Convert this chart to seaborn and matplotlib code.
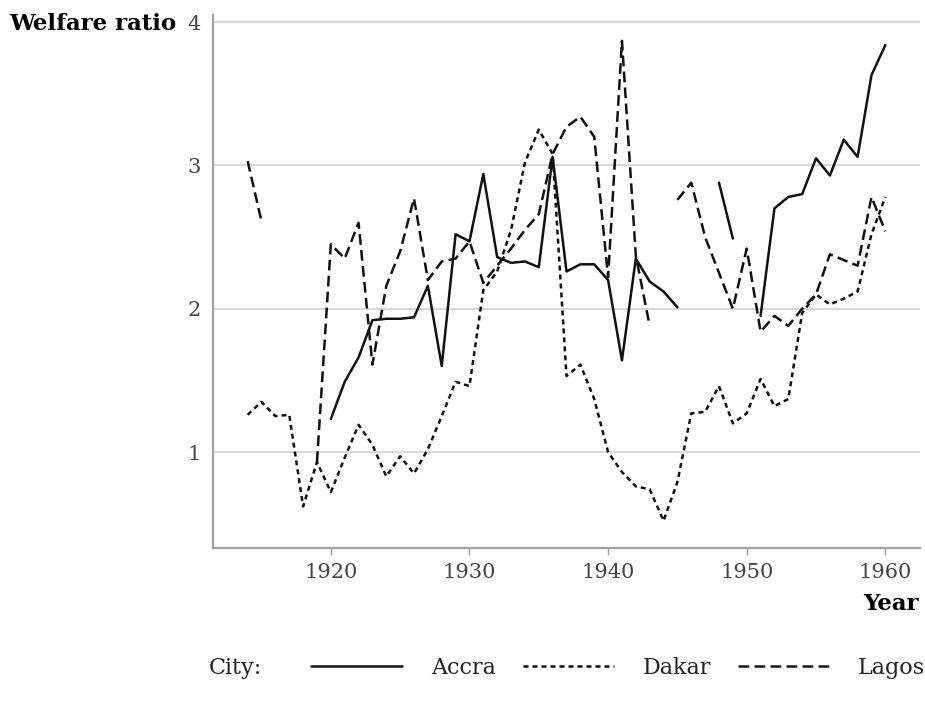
import numpy as np
import pandas as pd
import matplotlib.pyplot as plt
from matplotlib.lines import Line2D
import seaborn as sns

# -----------------------------
# Data
# -----------------------------
years = list(range(1914, 1961))

accra = [np.nan, np.nan, np.nan, np.nan, np.nan, np.nan,
         1.23, 1.49, 1.66, 1.92, 1.93, 1.93, 1.94, 2.16, 1.60, 2.52,
         2.47, 2.94, 2.36, 2.32, 2.33, 2.29, 3.06, 2.26, 2.31, 2.31,
         2.20, 1.64, 2.35, 2.19, 2.12, 2.01, np.nan, np.nan, 2.88, 2.49,
         np.nan, 1.95, 2.70, 2.78, 2.80, 3.05, 2.93, 3.18, 3.06, 3.63,
         3.84]

dakar = [1.26, 1.35, 1.25, 1.26, 0.62, 0.93,
         0.72, 0.96, 1.19, 1.05, 0.83, 0.97, 0.85, 1.02, 1.25, 1.49,
         1.46, 2.13, 2.26, 2.55, 3.02, 3.25, 3.08, 1.53, 1.61, 1.37,
         1.00, 0.86, 0.76, 0.74, 0.52, 0.79, 1.27, 1.28, 1.46, 1.20,
         1.27, 1.51, 1.32, 1.37, 1.97, 2.10, 2.03, 2.07, 2.12, 2.52,
         2.78]

lagos = [3.03, 2.61, np.nan, np.nan, np.nan, 0.93,
         2.45, 2.35, 2.60, 1.61, 2.16, 2.40, 2.77, 2.20, 2.33, 2.35,
         2.47, 2.18, 2.30, 2.42, 2.55, 2.66, 3.08, 3.27, 3.34, 3.20,
         2.22, 3.87, 2.37, 1.88, np.nan, 2.76, 2.88, 2.50, 2.25, 2.00,
         2.42, 1.84, 1.95, 1.88, 2.00, 2.10, 2.38, 2.34, 2.30, 2.78,
         2.54]

cities = ["Accra", "Dakar", "Lagos"]
series = {"Accra": accra, "Dakar": dakar, "Lagos": lagos}
styles = {
    "Accra": "-",
    "Dakar": (0, (2.0, 1.6)),
    "Lagos": (0, (4.3, 2.1)),
}

# -----------------------------
# Theme
# -----------------------------
sns.set_theme(style="white")
plt.rcParams["font.family"] = ["DejaVu Serif"]
TICK_FS = 15
LABEL_FS = 16.5
LEG_FS = 16
LW = 1.8

fig = plt.figure(figsize=(9.25, 7.04), dpi=100)
ax = fig.add_axes([213 / 925, 1 - 548 / 704, 707 / 925, 533 / 704])

for city in cities:
    df = pd.DataFrame({"Year": years, "Welfare ratio": series[city]})
    # split into segments so that missing years leave gaps
    df["seg"] = df["Welfare ratio"].isna().cumsum()
    df = df.dropna()
    sns.lineplot(data=df, x="Year", y="Welfare ratio", units="seg", estimator=None,
                 color="#111111", linewidth=LW, linestyle=styles[city], ax=ax, legend=False)

# -----------------------------
# Axes styling
# -----------------------------
ax.set_xlim(1911.5, 1962.5)
ax.set_ylim(0.33, 4.05)
ax.set_xticks([1920, 1930, 1940, 1950, 1960])
ax.set_yticks([1, 2, 3, 4])
ax.yaxis.grid(True, color="#d9d9d9", linewidth=1.6)
ax.xaxis.grid(False)
ax.set_axisbelow(True)
for side in ["top", "right"]:
    ax.spines[side].set_visible(False)
for side in ["left", "bottom"]:
    ax.spines[side].set_color("#a0a0a0")
    ax.spines[side].set_linewidth(1.6)
ax.tick_params(axis="x", direction="out", length=5, width=1, color="#a0a0a0",
               labelsize=TICK_FS, labelcolor="#444444", pad=6, bottom=True)
ax.tick_params(axis="y", length=0, labelsize=TICK_FS, labelcolor="#444444", pad=9)
ax.set_xlabel("")
ax.set_ylabel("")

fig.text(9 / 925, 1 - 24 / 704, "Welfare ratio", fontsize=LABEL_FS, fontweight="bold",
         ha="left", va="center", color="black")
fig.text(919 / 925, 1 - 604 / 704, "Year", fontsize=LABEL_FS, fontweight="bold",
         ha="right", va="center", color="black")

# -----------------------------
# Legend along the bottom
# -----------------------------
fig.text(209 / 925, 1 - 668 / 704, "City:", fontsize=LEG_FS, ha="left", va="center", color="#222222")
handles = [Line2D([], [], color="#111111", linewidth=LW, linestyle=styles[c]) for c in cities]
fig.legend(handles, cities, ncol=3, loc="center left", bbox_to_anchor=(300 / 925, 1 - 668 / 704),
           frameon=False, fontsize=LEG_FS, handlelength=4.1, handletextpad=1.3,
           columnspacing=1.2, borderpad=0, labelcolor="#222222")

fig.savefig("out.png", dpi=100)
